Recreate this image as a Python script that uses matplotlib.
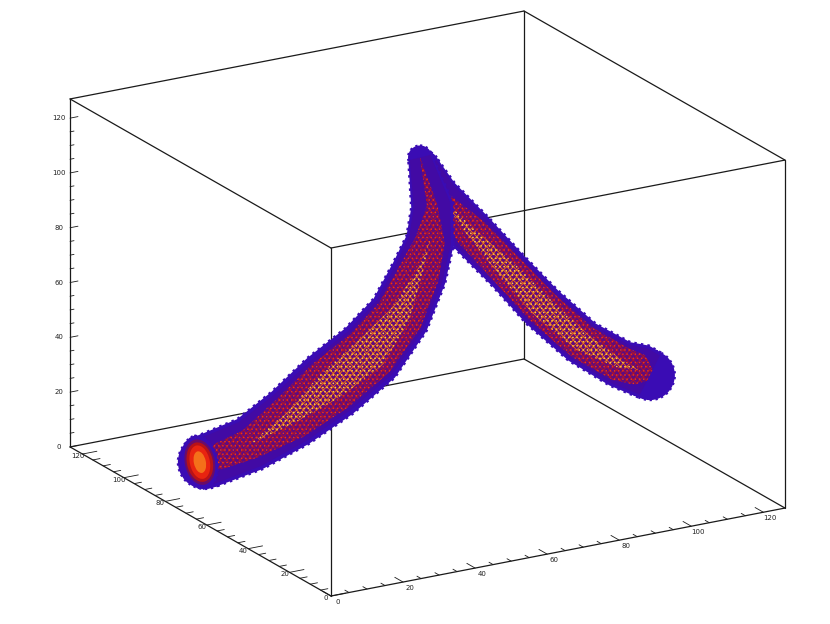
import numpy as np
import matplotlib
matplotlib.use('Agg')
import matplotlib.pyplot as plt
from matplotlib.patches import Polygon, Circle, Ellipse

# box limits
x_max, y_max, z_max = 126, 126, 127
tick_values = [0, 20, 40, 60, 80, 100, 120]
minor_values = list(range(0, 125, 5))

# left arm of the tube, from the open end up to the tip
left_x = [19.6, 28.1, 34.6, 41.1, 47.6, 52.5, 55.5, 57.4, 56.8, 52.3]
left_y = [95, 88, 80, 72, 64, 58, 54, 52, 50, 48]
left_z = [2.9, 10.3, 21.6, 35.1, 48.9, 64.2, 80.4, 92.8, 106.6, 126.0]
left_r = [27, 28, 32, 36, 35, 31, 28, 24, 21, 12]
left_warm = [0.45, 0.55, 0.72, 0.78, 0.78, 0.78, 0.74, 0.62, 0.25, 0]
left_hot = [0.0, 0.0, 0.2, 0.42, 0.5, 0.35, 0.12, 0.0, 0, 0]

# right arm, from the tip down to the far end
right_x = [53.7, 56.1, 64.1, 72.4, 79.3, 88.1, 96.3, 100.1, 102.3]
right_y = [48, 46, 44, 40, 36, 32, 28, 25, 24]
right_z = [122.9, 112.6, 97.5, 82.6, 69.7, 56.4, 48.1, 46.2, 44.2]
right_r = [14, 20, 23, 22, 23, 23, 24, 26, 25]
right_warm = [0, 0.35, 0.72, 0.78, 0.78, 0.78, 0.74, 0.6, 0.25]
right_hot = [0, 0, 0.2, 0.45, 0.5, 0.42, 0.18, 0, 0]

# open end of the tube
cap_x, cap_y, cap_z = 18.2, 95, 3.2


def proj(x, y, z):
    x, y, z = np.asarray(x, float), np.asarray(y, float), np.asarray(z, float)
    return 331 + 3.603*x - 2.071*y, 596 - 0.698*x - 1.183*y - 2.74*z


def line3(ax, a, b, lw=0.9, color='#1a1a1a'):
    px, py = proj(*zip(a, b))
    ax.plot(px, py, color=color, lw=lw, solid_capstyle='round', zorder=1)


def band(ax, x, y, z, r, frac, **kw):
    px, py = proj(x, y, z)
    dx, dy = np.gradient(px), np.gradient(py)
    n = np.hypot(dx, dy)
    w = np.asarray(r) * np.asarray(frac)
    up = np.c_[px + dy/n*w, py - dx/n*w]
    lo = np.c_[px - dy/n*w, py + dx/n*w]
    ax.add_patch(Polygon(np.r_[up, lo[::-1]], closed=True, **kw))


def tube(ax, x, y, z, r, warm, hot, zorder):
    blue = '#3a0cb4'
    px, py = proj(x, y, z)
    for i in (0, -1):
        ax.add_patch(Circle((px[i], py[i]), r[i], fc=blue, ec=blue, ls=':', lw=1.6, zorder=zorder))
    one = np.ones(len(r))
    band(ax, x, y, z, r, one, fc=blue, ec=blue, ls=':', lw=1.8, zorder=zorder)
    band(ax, x, y, z, r, 0.88*one, fc='#420aa4', ec='none', zorder=zorder+0.1)
    band(ax, x, y, z, r, warm, fc='#5f0a80', ec='#b8141e', hatch='xxxxx', lw=0, zorder=zorder+0.2)
    band(ax, x, y, z, r, warm, fc='none', ec='#e8341a', hatch='....', lw=0, zorder=zorder+0.25)
    band(ax, x, y, z, r, hot, fc='none', ec='#e8761e', hatch='xxxxx', lw=0, zorder=zorder+0.3)
    band(ax, x, y, z, r, hot, fc='none', ec='#f6c848', hatch='....', lw=0, zorder=zorder+0.35)


plt.rcParams['hatch.linewidth'] = 0.55
fig = plt.figure(figsize=(8.3, 6.24), dpi=100)
ax = fig.add_axes([0, 0, 1, 1])
ax.set_xlim(0, 830)
ax.set_ylim(624, 0)
ax.axis('off')

# box edges
X, Y, Z = x_max, y_max, z_max
for a, b in [((0, 0, 0), (X, 0, 0)), ((0, Y, 0), (X, Y, 0)), ((0, 0, Z), (X, 0, Z)), ((0, Y, Z), (X, Y, Z)),
             ((0, 0, 0), (0, Y, 0)), ((X, 0, 0), (X, Y, 0)), ((0, 0, Z), (0, Y, Z)), ((X, 0, Z), (X, Y, Z)),
             ((0, 0, 0), (0, 0, Z)), ((X, 0, 0), (X, 0, Z)), ((0, Y, 0), (0, Y, Z)), ((X, Y, 0), (X, Y, Z))]:
    line3(ax, a, b)

# ticks, minor ones every 5 units
for v in minor_values:
    k = 1.0 if v % 20 == 0 else 0.5
    line3(ax, (v, 0, 0), (v, 4*k, 0), lw=0.6)
    line3(ax, (0, v, 0), (4*k, v, 0), lw=0.6)
    line3(ax, (0, Y, v), (2.2*k, Y, v), lw=0.6)

font = dict(fontsize=5, color='#222222', ha='center', va='center')
for v in tick_values:
    px, py = proj(v, 0, 0)
    ax.text(px + 7, py + 6, str(v), **font)
    px, py = proj(0, v, 0)
    ax.text(px - 5, py + 2, str(v), **font)
    px, py = proj(0, Y, v)
    ax.text(px - 11, py, str(v), **font)

tube(ax, right_x, right_y, right_z, right_r, right_warm, right_hot, 3)
tube(ax, left_x, left_y, left_z, left_r, left_warm, left_hot, 4)

# open end of the tube, looking into it
cx, cy = proj(cap_x, cap_y, cap_z)
for rx, ry, c in [(18, 27, '#3a0cb4'), (15, 23, '#6a0c68'), (13, 20, '#b81218'), (10, 17, '#e82410'), (6, 11, '#f4701a')]:
    ax.add_patch(Ellipse((cx, cy), 2*rx, 2*ry, angle=-12, fc=c, ec=c if c == '#3a0cb4' else 'none',
                         ls=':', lw=1.4, zorder=5))

fig.savefig('out.png', dpi=100)
